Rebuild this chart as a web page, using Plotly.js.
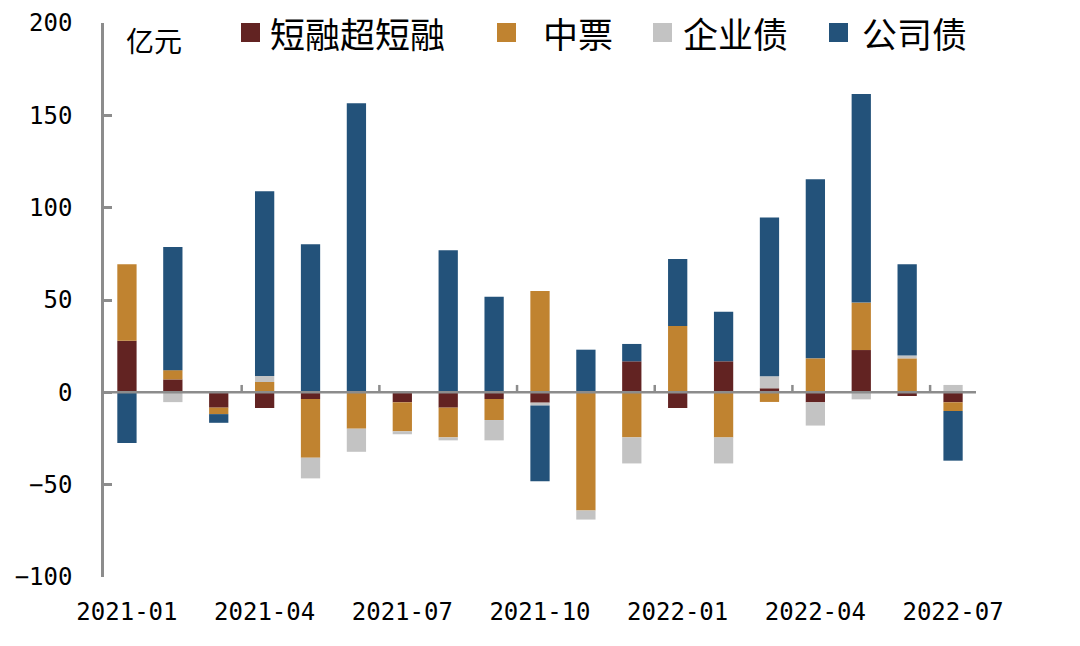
<!DOCTYPE html>
<html>
<head>
<meta charset="utf-8">
<script src="https://cdn.plot.ly/plotly-3.0.1.min.js"></script>
<style>
  html, body { margin: 0; padding: 0; background: #fff; }
  #chart { width: 1080px; height: 646px; }
</style>
</head>
<body>
<div id="chart"></div>
<script>
// mois (catégories)
const months = ['2021-01', '2021-02', '2021-03', '2021-04', '2021-05', '2021-06', '2021-07',
                '2021-08', '2021-09', '2021-10', '2021-11', '2021-12', '2022-01', '2022-02',
                '2022-03', '2022-04', '2022-05', '2022-06', '2022-07'];

// séries en 亿元
const cpSeries   = [28, 7, -8.3, -8.5, -3.6, 0, -5.4, -8.3, -3.6, -5.6, 0, 16.8, -8.5, 16.8, 2.2, -5.4, 22.9, -2, -5.4];
const mtnSeries  = [41.4, 5, -3.5, 5.6, -31.8, -19.7, -15.7, -16.1, -11.4, 54.9, -64, -24.4, 35.9, -24.4, -5.2, 18.4, 25.7, 18.4, -4.7];
const entSeries  = [0, -5.3, 0, 3.3, -11.2, -12.5, -1.6, -1.6, -11, -1.5, -4.9, -14.1, 0, -14.1, 6.5, -12.6, -3.8, 1.5, 4];
const corpSeries = [-27.5, 66.7, -4.7, 100, 80.2, 156.5, 0, 77, 51.7, -41, 23.1, 9.4, 36.3, 26.9, 86, 97, 113, 49.5, -26.9];

const seriesNames = ['短融超短融', '中票', '企业债', '公司债'];
const tickLabels = ['2021-01', '2021-04', '2021-07', '2021-10', '2022-01', '2022-04', '2022-07'];

const colors = ['#622322', '#C08330', '#C3C3C3', '#23527A'];
const axisColor = '#8C8C8C';
const cjk = '"Noto Sans CJK SC", "Noto Sans", sans-serif';
const numFont = '"DejaVu Sans Mono", "Liberation Mono", monospace';

// zone de tracé en pixels, pour placer la légende faite main
const plotL = 104, plotW = 872, plotB = 577, plotH = 554;
const legendSquareX = [241, 497, 653, 829];
const legendTextX = [268, 541, 681, 860];
const legendTop = 23, legendSize = 19;

function px2x(p) { return (p - plotL) / plotW; }
function px2y(p) { return (plotB - p) / plotH; }

let allSeries = [cpSeries, mtnSeries, entSeries, corpSeries];
let data = allSeries.map(function(vals, i)
{
  return {
    type: 'bar',
    name: seriesNames[i],
    x: months,
    y: vals,
    marker: { color: colors[i] },
    hoverinfo: 'x+y+name'
  };
});

// ligne du zéro par-dessus les barres + petits traits aux limites des trimestres
let shapes = [{
  type: 'line', xref: 'paper', yref: 'y', x0: 0, x1: 1, y0: 0, y1: 0,
  line: { color: axisColor, width: 2.5 }, layer: 'above'
}];
tickLabels.slice(1).forEach(function(lab)
{
  let idx = months.indexOf(lab) - 0.5;
  shapes.push({
    type: 'line', xref: 'x', yref: 'y', x0: idx, x1: idx, y0: 0, y1: 4,
    line: { color: axisColor, width: 2.5 }, layer: 'above'
  });
});

// légende : carrés + textes
let annotations = [{
  text: '亿元',
  xref: 'paper', yref: 'paper',
  x: 0.057, y: 0.969,
  xanchor: 'center', yanchor: 'middle',
  showarrow: false,
  font: { family: cjk, size: 28, color: '#000' }
}];
seriesNames.forEach(function(name, i)
{
  shapes.push({
    type: 'rect', xref: 'paper', yref: 'paper',
    x0: px2x(legendSquareX[i]), x1: px2x(legendSquareX[i] + legendSize),
    y0: px2y(legendTop + legendSize), y1: px2y(legendTop),
    fillcolor: colors[i], line: { width: 0 }, layer: 'above'
  });
  annotations.push({
    text: name,
    xref: 'paper', yref: 'paper',
    x: px2x(legendTextX[i]), y: px2y(legendTop + legendSize / 2),
    xanchor: 'left', yanchor: 'middle',
    showarrow: false,
    font: { family: cjk, size: 35, color: '#000' }
  });
});

let layout =
{
  width: 1080,
  height: 646,
  margin: { l: plotL, r: 1080 - plotL - plotW, t: plotB - plotH, b: 646 - plotB, autoexpand: false },
  paper_bgcolor: '#fff',
  plot_bgcolor: '#fff',
  barmode: 'relative',
  bargap: 0.58,
  font: { family: cjk, color: '#000', size: 24 },
  showlegend: false,
  xaxis:
  {
    type: 'category',
    range: [-0.5, 18.5],
    tickmode: 'array',
    tickvals: tickLabels,
    ticktext: tickLabels,
    ticks: '',
    showline: false,
    showgrid: false,
    zeroline: false,
    ticklabelstandoff: 18,
    tickfont: { family: numFont, size: 24, color: '#000' }
  },
  yaxis:
  {
    range: [-100, 200],
    dtick: 50,
    tick0: 0,
    showline: true,
    linecolor: axisColor,
    linewidth: 2.5,
    ticks: 'inside',
    ticklen: 8,
    tickwidth: 2.5,
    tickcolor: axisColor,
    showgrid: false,
    zeroline: false,
    ticklabelstandoff: 24,
    tickfont: { family: numFont, size: 24, color: '#000' }
  },
  annotations: annotations,
  shapes: shapes
};

Plotly.newPlot('chart', data, layout, { displayModeBar: false, responsive: false });
</script>
</body>
</html>
